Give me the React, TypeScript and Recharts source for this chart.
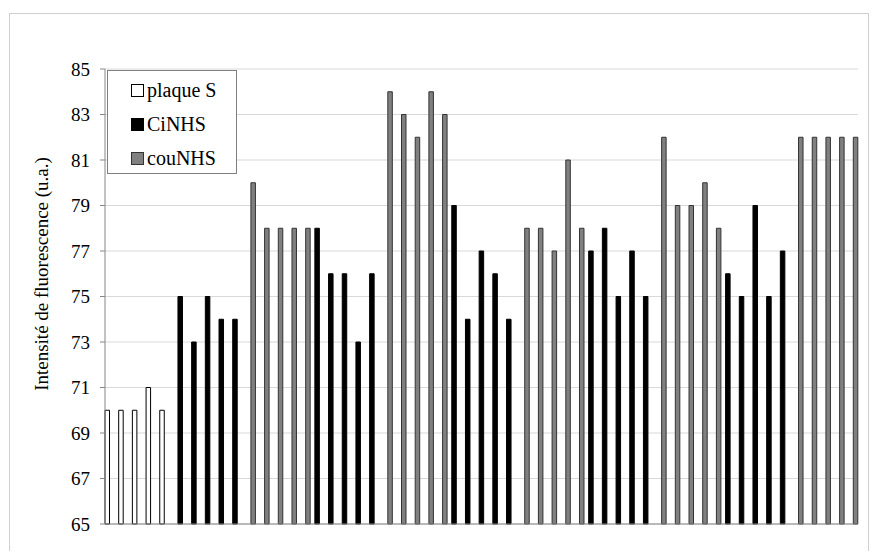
import { BarChart, Bar, XAxis, YAxis, CartesianGrid, Legend } from 'recharts';

// fluorescence readings, 5 spots per plate
const plaqueS = [70, 70, 70, 71, 70];
const ciNHS = [
  [75, 73, 75, 74, 74],
  [78, 76, 76, 73, 76],
  [79, 74, 77, 76, 74],
  [77, 78, 75, 77, 75],
  [76, 75, 79, 75, 77],
];
const couNHS = [
  [80, 78, 78, 78, 78],
  [84, 83, 82, 84, 83],
  [78, 78, 77, 81, 78],
  [82, 79, 79, 80, 78],
  [82, 82, 82, 82, 82],
];
const yTicks = [65, 67, 69, 71, 73, 75, 77, 79, 81, 83, 85];

const series = [
  { key: 'plaqueS', name: 'plaque S', fill: '#ffffff', stroke: '#000000' },
  { key: 'ciNHS', name: 'CiNHS', fill: '#000000', stroke: '#000000' },
  { key: 'couNHS', name: 'couNHS', fill: '#808080', stroke: '#333333' },
];

type Row = { id: string; plaqueS?: number; ciNHS?: number; couNHS?: number };

const rows: Row[] = [];
plaqueS.forEach((v, i) => rows.push({ id: `S-${i + 1}`, plaqueS: v }));
ciNHS.forEach((grp, g) => {
  grp.forEach((v, i) => rows.push({ id: `Ci${g + 1}-${i + 1}`, ciNHS: v }));
  couNHS[g].forEach((v, i) => rows.push({ id: `cou${g + 1}-${i + 1}`, couNHS: v }));
});

const font = "'Liberation Serif', 'DejaVu Serif', serif";

const LegendBox = () => (
  <div
    style={{
      width: 128,
      height: 100,
      border: '1px solid #7f7f7f',
      background: '#fff',
      fontFamily: font,
      fontSize: 20,
      color: '#000',
      paddingTop: 2,
      boxSizing: 'content-box',
      textAlign: 'left',
    }}
  >
    {series.map((s) => (
      <div key={s.key} style={{ height: 34, display: 'flex', alignItems: 'center', paddingLeft: 23 }}>
        <span
          style={{
            width: 11,
            height: 11,
            background: s.fill,
            border: `1px solid ${s.stroke}`,
            display: 'inline-block',
            marginRight: 3,
          }}
        />
        {s.name}
      </div>
    ))}
  </div>
);

const YLabel = () => (
  <text
    x={41}
    y={274}
    transform="rotate(-90 41 274)"
    textAnchor="middle"
    dominantBaseline="central"
    fontFamily={font}
    fontSize={19}
    fill="#000"
  >
    Intensité de fluorescence (u.a.)
  </text>
);

export default function App() {
  return (
    <div style={{ position: 'relative', width: 877, height: 551, overflow: 'hidden', background: '#fff' }}>
      <style>{'body{margin:0}'}</style>
      <div
        style={{
          position: 'absolute',
          left: 9,
          top: 13,
          width: 858,
          height: 600,
          border: '1px solid #d0d0d0',
        }}
      />
      <div style={{ position: 'absolute', left: 0, top: 0 }}>
        <BarChart
          width={877}
          height={551}
          data={rows}
          margin={{ top: 69, right: 19, bottom: 26, left: 0 }}
        >
          <CartesianGrid vertical={false} stroke="#d9d9d9" />
          <XAxis
            dataKey="id"
            tick={false}
            tickLine={false}
            height={1}
            axisLine={{ stroke: '#868686' }}
          />
          <YAxis
            width={105}
            domain={[65, 85]}
            ticks={yTicks}
            interval={0}
            tickSize={5}
            tickMargin={10}
            axisLine={{ stroke: '#868686' }}
            tickLine={{ stroke: '#868686' }}
            tick={{ fill: '#000', fontSize: 19, fontFamily: font }}
            label={<YLabel />}
          />
          <Legend
            layout="horizontal"
            verticalAlign="middle"
            align="center"
            content={<LegendBox />}
            wrapperStyle={{ left: 107, top: 70, width: 'auto' }}
          />
          {series.map((s) => (
            <Bar
              key={s.key}
              dataKey={s.key}
              name={s.name}
              fill={s.fill}
              stroke={s.stroke}
              strokeWidth={1}
              barSize={4.5}
              isAnimationActive={false}
            />
          ))}
        </BarChart>
      </div>
    </div>
  );
}
